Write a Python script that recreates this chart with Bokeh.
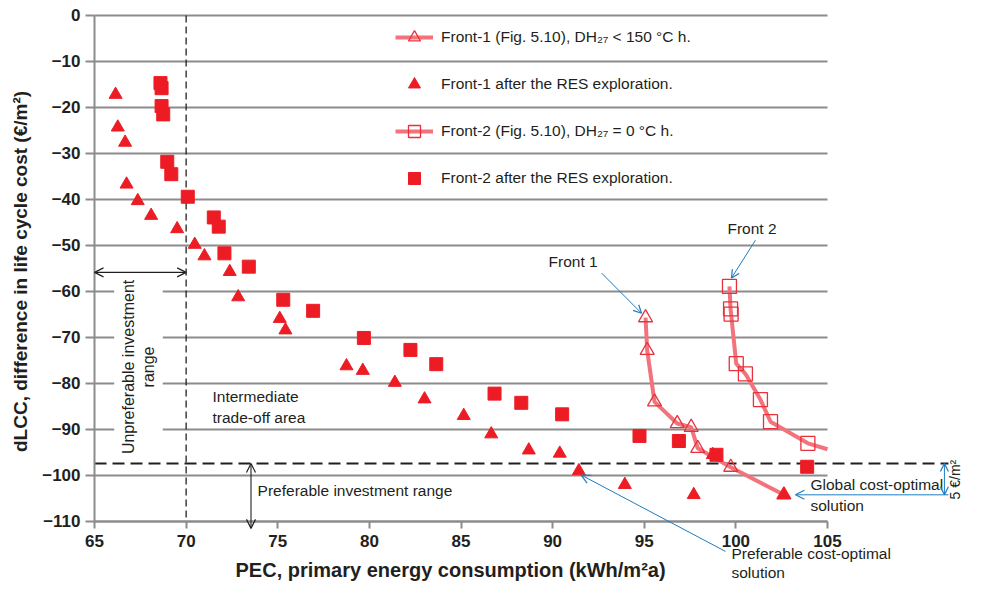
import math
from bokeh.plotting import figure
from bokeh.models import FixedTicker, Legend, LegendItem, Arrow, OpenHead, Label, LinearAxis
from bokeh.embed import file_html
from bokeh.resources import INLINE

# ---------------- data ----------------
x_ticks = [65, 70, 75, 80, 85, 90, 95, 100, 105]
y_ticks = [0, -10, -20, -30, -40, -50, -60, -70, -80, -90, -100, -110]
y_tick_labels = ["0", "\u221210", "\u221220", "\u221230", "\u221240", "\u221250", "\u221260",
                 "\u221270", "\u221280", "\u221290", "\u2212100", "\u2212110"]
x_min, x_max = 65, 105
y_min, y_max = -110, 0

# Front-1 after the RES exploration (filled triangles)
res1_pec = [66.15, 66.27, 66.67, 66.75, 67.36, 68.09, 69.51, 70.47, 71.0, 72.38, 72.84,
            75.11, 75.42, 78.75, 79.64, 81.39, 83.01, 85.15, 86.65, 88.7, 90.39, 91.43,
            93.94, 97.7, 98.74, 102.62]
res1_dlcc = [-17.2, -24.3, -27.6, -36.7, -40.3, -43.5, -46.4, -49.8, -52.3, -55.7, -61.2,
             -65.9, -68.4, -76.2, -77.2, -79.8, -83.4, -87.0, -91.0, -94.5, -95.2, -99.0,
             -102.0, -104.2, -95.5, -104.2]

# Front-2 after the RES exploration (filled squares)
res2_pec = [68.6, 68.66, 68.66, 68.75, 68.97, 69.19, 70.09, 71.51, 71.78, 72.09, 73.42,
            75.3, 76.93, 79.7, 82.24, 83.65, 86.83, 88.29, 90.52, 94.74, 96.89, 98.94, 103.89]
res2_dlcc = [-14.7, -15.8, -19.7, -21.5, -31.8, -34.5, -39.4, -43.9, -45.9, -51.7, -54.6,
             -61.8, -64.2, -70.1, -72.7, -75.8, -82.2, -84.2, -86.7, -91.4, -92.5, -95.5, -98.1]

# Front-1 (Fig. 5.10), DH27 < 150 °C h
f1_pec = [95.07, 95.16, 95.56, 96.8, 97.56, 97.92, 99.72, 102.62]
f1_dlcc = [-65.7, -72.8, -84.0, -88.7, -89.5, -94.1, -98.2, -104.2]

# Front-2 (Fig. 5.10), DH27 = 0 °C h  (the curve continues to the axis end)
f2_pec = [99.65, 99.71, 99.74, 100.02, 100.52, 101.34, 101.89, 103.93]
f2_dlcc = [-58.9, -63.8, -64.9, -75.7, -77.9, -83.5, -88.3, -93.0]
f2_tail_pec = [105.0]
f2_tail_dlcc = [-94.3]

limit_pec = 70.0          # vertical dashed limit
limit_dlcc = -97.4        # horizontal dashed limit

# ---------------- style ----------------
RED = "#ed1c24"
RED_OUT = "#e8313a"
PINK = "#f2737b"
GRID = "#8c8c8c"
INK = "#231f20"
BLUE = "#1f7cc1"
FONT = "Liberation Sans"

# the frame covers the whole canvas so that the call-outs outside the axes are drawn
p = figure(width=967, height=583, x_range=(59.87, 112.64), y_range=(-123.48, 3.26),
           output_backend="svg", toolbar_location=None,
           x_axis_location=None, y_axis_location=None,
           min_border_left=0, min_border_right=0, min_border_top=0, min_border_bottom=0)
p.outline_line_color = None
p.xgrid.visible = False
p.ygrid.visible = False

# horizontal grid lines, limited to the axis extent
p.segment(x0=[x_min] * len(y_ticks), y0=y_ticks, x1=[x_max] * len(y_ticks), y1=y_ticks,
          line_color=GRID, line_width=2)

xaxis = LinearAxis(fixed_location=y_min, bounds=(x_min, x_max),
                   ticker=FixedTicker(ticks=x_ticks))
yaxis = LinearAxis(fixed_location=x_min, bounds=(y_min, y_max),
                   ticker=FixedTicker(ticks=y_ticks),
                   major_label_overrides={t: s for t, s in zip(y_ticks, y_tick_labels)})
for ax in (xaxis, yaxis):
    ax.axis_line_color = GRID
    ax.axis_line_width = 2
    ax.major_tick_line_color = GRID
    ax.major_tick_line_width = 2
    ax.major_tick_in = 0
    ax.minor_tick_line_color = None
    ax.major_label_text_font = FONT
    ax.major_label_text_font_style = "bold"
    ax.major_label_text_font_size = "17px"
    ax.major_label_text_color = INK
xaxis.major_tick_out = 7
xaxis.major_label_standoff = 7
yaxis.major_tick_out = 9
yaxis.major_label_standoff = 5
p.add_layout(xaxis, "below")
p.add_layout(yaxis, "left")

# axis titles
p.add_layout(Label(x=84.43, y=-120.6, text="PEC, primary energy consumption (kWh/m\u00b2a)",
                   text_font=FONT, text_font_style="bold", text_font_size="20px",
                   text_color=INK, text_align="center", text_baseline="middle"))
p.add_layout(Label(x=60.96, y=-55.65, text="dLCC, difference in life cycle cost (\u20ac/m\u00b2)",
                   text_font=FONT, text_font_style="bold", text_font_size="19px",
                   text_color=INK, text_align="center", text_baseline="middle",
                   angle=math.pi / 2))

# reference lines
p.segment(x0=[limit_pec], y0=[y_max], x1=[limit_pec], y1=[y_min],
          line_color=INK, line_width=1.3, line_dash="7 4")
p.segment(x0=[x_min], y0=[limit_dlcc], x1=[111.6], y1=[limit_dlcc],
          line_color=INK, line_width=2, line_dash="12 6")

# data marks
l1 = p.line(f1_pec, f1_dlcc, line_color=PINK, line_width=4)
s1 = p.scatter(f1_pec, f1_dlcc, marker="triangle", size=14, line_color=RED_OUT,
               line_width=1.3, fill_alpha=0)
l2 = p.line(f2_pec + f2_tail_pec, f2_dlcc + f2_tail_dlcc, line_color=PINK, line_width=4)
s2 = p.scatter(f2_pec, f2_dlcc, marker="square", size=14, line_color=RED_OUT,
               line_width=1.3, fill_alpha=0)
r1 = p.scatter(res1_pec, res1_dlcc, marker="triangle", size=13, color=RED)
r2 = p.scatter(res2_pec, res2_dlcc, marker="square", size=13, color=RED)

legend = Legend(items=[
    LegendItem(label="Front-1 (Fig. 5.10), DH\u2082\u2087 < 150 \u00b0C h.", renderers=[l1, s1]),
    LegendItem(label="Front-1 after the RES exploration.", renderers=[r1]),
    LegendItem(label="Front-2 (Fig. 5.10), DH\u2082\u2087 = 0 \u00b0C h.", renderers=[l2, s2]),
    LegendItem(label="Front-2 after the RES exploration.", renderers=[r2]),
], location=(395, 390))
legend.background_fill_alpha = 0
legend.border_line_alpha = 0
legend.padding = 0
legend.margin = 0
legend.spacing = 17
legend.glyph_height = 30
legend.label_height = 30
legend.glyph_width = 38
legend.label_standoff = 8
legend.label_text_font = FONT
legend.label_text_font_size = "15.5px"
legend.label_text_color = INK
p.add_layout(legend)

# ---------------- annotations ----------------
def head(color, size=9):
    return OpenHead(size=size, line_color=color, line_width=1.2)

def text(x, y, t, size="15.5px", **kw):
    p.add_layout(Label(x=x, y=y, text=t, text_font=FONT, text_font_size=size,
                       text_color=INK, **kw))

# unpreferable range
p.add_layout(Arrow(x_start=x_min, y_start=-55.84, x_end=limit_pec, y_end=-55.84,
                   start=head(INK), end=head(INK), line_color=INK, line_width=1.1))
text(67.4, -76.4, "Unpreferable investment\nrange", size="16px", angle=math.pi / 2,
     text_align="center", text_baseline="middle", text_line_height=1.15,
     background_fill_color="white", padding=6)

text(71.44, -85.1, "Intermediate\ntrade-off area", text_baseline="middle",
     text_line_height=1.2)

# preferable range
p.add_layout(Arrow(x_start=73.54, y_start=limit_dlcc, x_end=73.54, y_end=-111.5,
                   start=head(INK), end=head(INK), line_color=INK, line_width=1.1))
text(73.9, -103.3, "Preferable investment range", text_baseline="middle")

# fronts
text(89.78, -53.45, "Front 1", text_baseline="middle")
p.add_layout(Arrow(x_start=92.67, y_start=-55.99, x_end=94.85, y_end=-64.72,
                   end=head(BLUE, 8), line_color=BLUE, line_width=1))
text(99.54, -46.2, "Front 2", text_baseline="middle")
p.add_layout(Arrow(x_start=101.07, y_start=-48.84, x_end=99.76, y_end=-57.07,
                   end=head(BLUE, 8), line_color=BLUE, line_width=1))

# global cost-optimal
p.add_layout(Arrow(x_start=111.6, y_start=-104.2, x_end=103.25, y_end=-104.2,
                   end=head(BLUE, 9), line_color=BLUE, line_width=1))
text(104.07, -104.17, "Global cost-optimal\nsolution", text_baseline="middle",
     text_line_height=1.25)
p.add_layout(Arrow(x_start=111.38, y_start=limit_dlcc, x_end=111.38, y_end=-104.2,
                   start=head(BLUE, 8), end=head(BLUE, 8), line_color=BLUE, line_width=1))
text(111.98, -100.9, "5 \u20ac/m\u00b2", angle=math.pi / 2, text_align="center",
     text_baseline="middle", size="14px")

# preferable cost-optimal
p.add_layout(Arrow(x_start=99.43, y_start=-116.5, x_end=91.56, y_end=-99.9,
                   end=head(BLUE, 9), line_color=BLUE, line_width=1))
text(99.76, -119.0, "Preferable cost-optimal\nsolution", text_baseline="middle",
     text_line_height=1.15)

open("out.html", "w").write(file_html(p, INLINE))
